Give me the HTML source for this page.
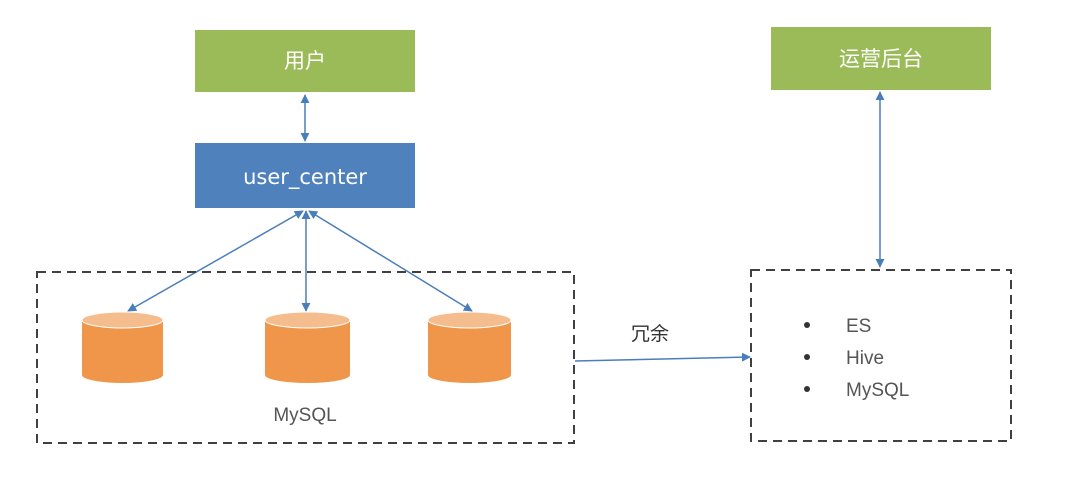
<!DOCTYPE html>
<html><head><meta charset="utf-8"><style>
html,body{margin:0;padding:0;background:#fff;}
body{width:1080px;height:476px;position:relative;overflow:hidden;font-family:"Liberation Sans","Noto Sans CJK SC",sans-serif;}
</style></head><body>
<svg width="1080" height="476" viewBox="0 0 1080 476" xmlns="http://www.w3.org/2000/svg">
<defs>
<marker id="a" viewBox="0 0 10 10" refX="9" refY="5" markerWidth="9" markerHeight="9" orient="auto-start-reverse" markerUnits="userSpaceOnUse"><path d="M0,0 L10,5 L0,10 z" fill="#4a7ebb"/></marker>
</defs>
<rect x="195" y="30" width="220" height="62" fill="#9bbb59"/>
<text x="305" y="68" font-size="21" fill="#fff" text-anchor="middle" font-family="Noto Sans CJK SC,sans-serif">用户</text>
<rect x="195" y="143" width="220" height="65" fill="#4f81bd"/>
<text x="305" y="184" font-size="21" fill="#fff" text-anchor="middle" font-family="DejaVu Sans,sans-serif">user_center</text>
<rect x="771" y="27" width="220" height="63" fill="#9bbb59"/>
<text x="881" y="66" font-size="21" fill="#fff" text-anchor="middle" font-family="Noto Sans CJK SC,sans-serif">运营后台</text>
<g stroke="#4a7ebb" stroke-width="1.5" fill="none" marker-start="url(#a)" marker-end="url(#a)">
<line x1="305" y1="95" x2="305" y2="141"/>
<line x1="303" y1="211" x2="128" y2="311"/>
<line x1="306" y1="211" x2="306" y2="311"/>
<line x1="309" y1="211" x2="472" y2="311"/>
<line x1="880" y1="92" x2="880" y2="267"/>
</g>
<line x1="575" y1="361" x2="750" y2="357" stroke="#4a7ebb" stroke-width="1.5" marker-end="url(#a)"/>
<text x="650" y="340" font-size="19" fill="#333" text-anchor="middle" font-family="Noto Sans CJK SC,sans-serif">冗余</text>
<rect x="37" y="272" width="537" height="171" fill="none" stroke="#404040" stroke-width="2" stroke-dasharray="9,6"/>
<rect x="751" y="270" width="260" height="171" fill="none" stroke="#404040" stroke-width="2" stroke-dasharray="9,6"/>
<g>
<path d="M82,320 L82,375 A40.5,8 0 0 0 163,375 L163,320 z" fill="#f0964a"/>
<ellipse cx="122.5" cy="320" rx="40.5" ry="8" fill="#f5bd8d" stroke="#fff" stroke-width="1"/>
<path d="M265,320 L265,375 A42.5,8 0 0 0 350,375 L350,320 z" fill="#f0964a"/>
<ellipse cx="307.5" cy="320" rx="42.5" ry="8" fill="#f5bd8d" stroke="#fff" stroke-width="1"/>
<path d="M428,320 L428,375 A41.5,8 0 0 0 511,375 L511,320 z" fill="#f0964a"/>
<ellipse cx="469.5" cy="320" rx="41.5" ry="8" fill="#f5bd8d" stroke="#fff" stroke-width="1"/>
</g>
<text x="305" y="421" font-size="19" fill="#555" text-anchor="middle">MySQL</text>
<g fill="#333"><circle cx="807" cy="325" r="3"/><circle cx="807" cy="357" r="3"/><circle cx="807" cy="389" r="3"/></g>
<g font-size="19" fill="#555"><text x="846" y="332">ES</text><text x="846" y="364">Hive</text><text x="846" y="396">MySQL</text></g>
</svg>
</body></html>
